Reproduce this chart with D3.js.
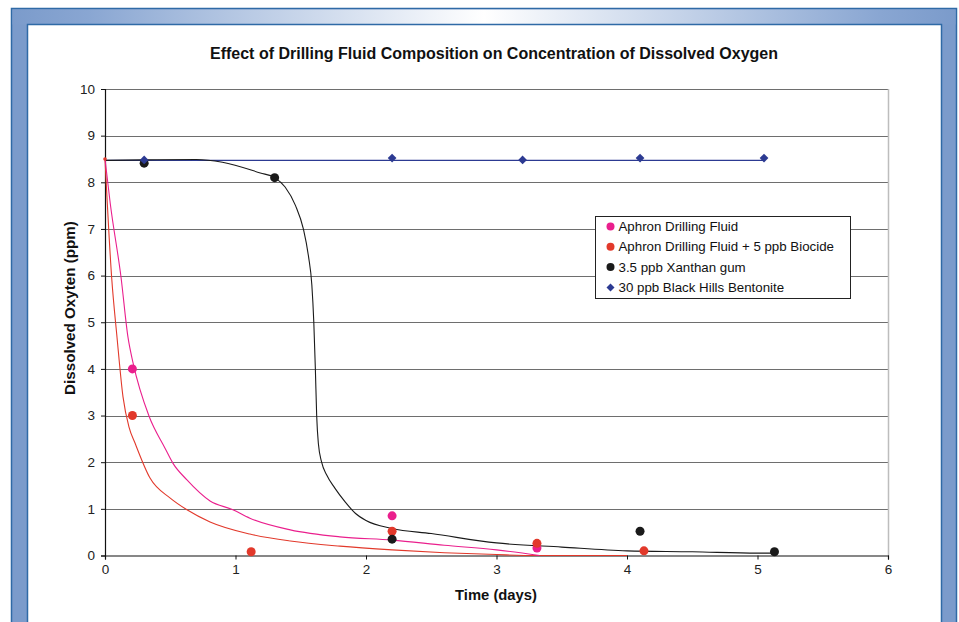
<!DOCTYPE html>
<html><head><meta charset="utf-8">
<script src="https://cdn.jsdelivr.net/npm/d3@7"></script>
<style>html,body{margin:0;padding:0;background:#fff;}svg{display:block;}text{font-family:"Liberation Sans",Arial,sans-serif;}</style>
</head><body>
<script>
// ---- data ----
const xTicks = [0, 1, 2, 3, 4, 5, 6];
const yTicks = [0, 1, 2, 3, 4, 5, 6, 7, 8, 9, 10];
const seriesNames = ["Aphron Drilling Fluid", "Aphron Drilling Fluid + 5 ppb Biocide", "3.5 ppb Xanthan gum", "30 ppb Black Hills Bentonite"];

const aphronX = [0.21, 2.2, 3.31];
const aphronY = [4.0, 0.85, 0.16];
const biocideX = [0.21, 1.12, 2.2, 3.31, 4.13];
const biocideY = [3.0, 0.08, 0.52, 0.26, 0.1];
const xanthanX = [0.3, 1.3, 2.2, 4.1, 5.13];
const xanthanY = [8.41, 8.1, 0.35, 0.52, 0.08];
const bentoniteX = [0.3, 2.2, 3.2, 4.1, 5.05];
const bentoniteY = [8.48, 8.52, 8.48, 8.52, 8.52];
const startX = [0];
const startY = [8.5];

// fitted / smoothed curves
const aphronCurveX = [0, 0.04, 0.123, 0.176, 0.215, 0.337, 0.46, 0.52, 0.628, 0.805, 0.98, 1.11, 1.42, 1.8, 2.2, 2.6, 3.0, 3.33];
const aphronCurveY = [8.5, 7.55, 5.96, 4.68, 4.13, 2.99, 2.3, 1.98, 1.62, 1.17, 0.98, 0.8, 0.55, 0.4, 0.33, 0.22, 0.12, 0];
const biocideCurveX = [0, 0.051, 0.092, 0.138, 0.184, 0.23, 0.345, 0.5, 0.628, 0.805, 1.11, 1.42, 1.8, 2.2, 2.6, 3.0, 3.3, 4.0];
const biocideCurveY = [8.5, 5.96, 4.68, 3.4, 2.75, 2.41, 1.66, 1.23, 0.98, 0.72, 0.46, 0.31, 0.2, 0.12, 0.06, 0.02, 0, 0];
const xanthanCurveX = [0, 0.3, 0.7, 0.9, 1.19, 1.3, 1.38, 1.46, 1.52, 1.56, 1.585, 1.6, 1.612, 1.622, 1.635, 1.66, 1.70, 1.76, 1.84, 1.92, 2.0, 2.2, 2.5, 3.0, 3.5, 4.0, 4.5, 5.0, 5.13];
const xanthanCurveY = [8.47, 8.48, 8.49, 8.43, 8.2, 8.1, 7.9, 7.5, 7.0, 6.4, 5.8, 5.0, 4.0, 3.0, 2.4, 2.0, 1.72, 1.45, 1.15, 0.9, 0.75, 0.58, 0.47, 0.27, 0.18, 0.1, 0.08, 0.05, 0.05];
const bentoniteLineX = [0, 5.05];
const bentoniteLineY = [8.47, 8.47];

const colors = {aphron: "#ea1f8d", biocide: "#e2392b", xanthan: "#1a1a1a", bentonite: "#2c3a92"};

// ---- drawing ----
const W = 959, H = 622;
const svg = d3.select("body").append("svg").attr("width", W).attr("height", H);

// frame
const defs = svg.append("defs");
const grad = defs.append("linearGradient").attr("id", "topGrad").attr("x1", "0%").attr("x2", "100%").attr("y1", "0%").attr("y2", "0%");
grad.append("stop").attr("offset", "0%").attr("stop-color", "#7b9bcb");
grad.append("stop").attr("offset", "8%").attr("stop-color", "#89a6d2");
grad.append("stop").attr("offset", "50%").attr("stop-color", "#ffffff");
grad.append("stop").attr("offset", "92%").attr("stop-color", "#89a6d2");
grad.append("stop").attr("offset", "100%").attr("stop-color", "#7b9bcb");

svg.append("rect").attr("x", 11.5).attr("y", 8.5).attr("width", 945).attr("height", 630)
  .attr("fill", "#7b9bcb").attr("stroke", "#2f6aa6").attr("stroke-width", 1.5);
svg.append("rect").attr("x", 12.5).attr("y", 9.5).attr("width", 943).attr("height", 15)
  .attr("fill", "url(#topGrad)");
svg.append("rect").attr("x", 27.5).attr("y", 24.5).attr("width", 914).attr("height", 620)
  .attr("fill", "#ffffff").attr("stroke", "#2f6aa6").attr("stroke-width", 1.5);

const m = {l: 105, r: 888, t: 89, b: 555.5};
const x = d3.scaleLinear().domain([0, 6]).range([m.l, m.r]);
const y = d3.scaleLinear().domain([0, 10]).range([m.b, m.t]);

// gridlines
svg.append("g").selectAll("line").data(yTicks.filter(d => d > 0)).join("line")
  .attr("x1", m.l).attr("x2", m.r)
  .attr("y1", d => Math.round(y(d)) + 0.5).attr("y2", d => Math.round(y(d)) + 0.5)
  .attr("stroke", "#6e6e6e").attr("stroke-width", 1);
// right border
svg.append("line").attr("x1", m.r + 0.5).attr("x2", m.r + 0.5).attr("y1", m.t).attr("y2", m.b)
  .attr("stroke", "#bdbdbd").attr("stroke-width", 1.5);

// axes
const yAxis = d3.axisLeft(y).tickValues(yTicks).tickSize(4).tickPadding(6).tickFormat(d3.format("d"));
const gy = svg.append("g").attr("transform", `translate(${m.l},0)`).call(yAxis);
const xAxis = d3.axisBottom(x).tickValues(xTicks).tickSize(4).tickPadding(5).tickFormat(d3.format("d"));
const gx = svg.append("g").attr("transform", `translate(0,${m.b})`).call(xAxis);
[gx, gy].forEach(g => {
  g.select(".domain").attr("stroke", "#111").attr("stroke-width", 1.2);
  g.selectAll(".tick line").attr("stroke", "#111");
  g.selectAll(".tick text").attr("font-size", 13.5).attr("fill", "#222")
    .attr("font-family", "'Liberation Sans', Arial, sans-serif");
});

// curves
const line = d3.line().x(d => x(d[0])).y(d => y(d[1])).curve(d3.curveMonotoneX);
const zip = (a, b) => a.map((v, i) => [v, b[i]]);
svg.append("path").datum(zip(bentoniteLineX, bentoniteLineY)).attr("d", d3.line().x(d => x(d[0])).y(d => y(d[1])))
  .attr("fill", "none").attr("stroke", colors.bentonite).attr("stroke-width", 1.2);
svg.append("path").datum(zip(xanthanCurveX, xanthanCurveY)).attr("d", line)
  .attr("fill", "none").attr("stroke", colors.xanthan).attr("stroke-width", 1.1);
svg.append("path").datum(zip(biocideCurveX, biocideCurveY)).attr("d", line)
  .attr("fill", "none").attr("stroke", colors.biocide).attr("stroke-width", 1.1);
svg.append("path").datum(zip(aphronCurveX, aphronCurveY)).attr("d", line)
  .attr("fill", "none").attr("stroke", colors.aphron).attr("stroke-width", 1.1);

// markers
svg.append("g").selectAll("circle").data(zip(startX, startY)).join("circle")
  .attr("cx", d => x(d[0])).attr("cy", d => y(d[1])).attr("r", 1.8).attr("fill", colors.biocide);
function dots(xs, ys, c) {
  svg.append("g").selectAll("circle").data(zip(xs, ys)).join("circle")
    .attr("cx", d => x(d[0])).attr("cy", d => y(d[1])).attr("r", 4.5).attr("fill", c);
}
dots(aphronX, aphronY, colors.aphron);
dots(biocideX, biocideY, colors.biocide);
dots(xanthanX, xanthanY, colors.xanthan);
const diamond = d3.symbol().type(d3.symbolSquare).size(38);
svg.append("g").selectAll("path").data(zip(bentoniteX, bentoniteY)).join("path")
  .attr("transform", d => `translate(${x(d[0])},${y(d[1])}) rotate(45)`).attr("d", diamond).attr("fill", colors.bentonite);

// title and axis labels
svg.append("text").attr("x", 494).attr("y", 58.5).attr("text-anchor", "middle")
  .attr("font-size", 16).attr("font-weight", "bold").attr("fill", "#111")
  .text("Effect of Drilling Fluid Composition on Concentration of Dissolved Oxygen");
svg.append("text").attr("x", 496).attr("y", 600).attr("text-anchor", "middle")
  .attr("font-size", 14.8).attr("font-weight", "bold").attr("fill", "#111").text("Time (days)");
svg.append("text").attr("transform", "translate(75,308) rotate(-90)").attr("text-anchor", "middle")
  .attr("font-size", 15.2).attr("font-weight", "bold").attr("fill", "#111").text("Dissolved Oxyten (ppm)");

// legend
const lg = svg.append("g").attr("transform", "translate(595.5,216.5)");
lg.append("rect").attr("width", 255).attr("height", 82).attr("fill", "#fff").attr("stroke", "#222").attr("stroke-width", 1);
const legColors = [colors.aphron, colors.biocide, colors.xanthan, colors.bentonite];
seriesNames.forEach((name, i) => {
  const cy = 10 + i * 20.3;
  if (i < 3) {
    lg.append("circle").attr("cx", 15).attr("cy", cy).attr("r", 4).attr("fill", legColors[i]);
  } else {
    lg.append("path").attr("transform", `translate(15,${cy}) rotate(45)`).attr("d", d3.symbol().type(d3.symbolSquare).size(32)).attr("fill", legColors[i]);
  }
  lg.append("text").attr("x", 23).attr("y", cy + 4.6).attr("font-size", 13.3).attr("fill", "#111").text(name);
});
</script>
</body></html>
